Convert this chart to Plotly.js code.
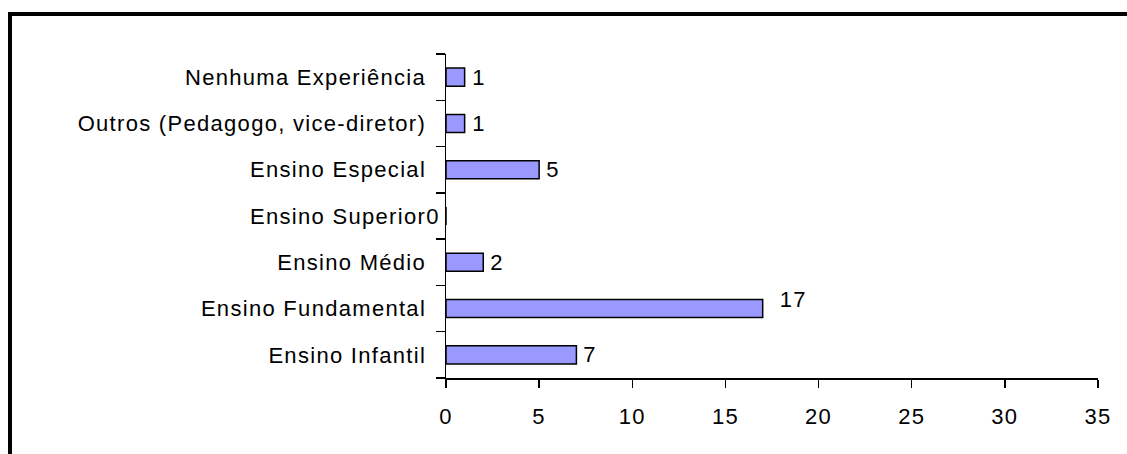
<!DOCTYPE html>
<html>
<head>
<meta charset="utf-8">
<script src="https://cdn.plot.ly/plotly-3.0.1.min.js"></script>
<style>
  html, body { margin: 0; padding: 0; background: #fff; }
  #wrap { position: relative; width: 1127px; height: 454px; overflow: hidden; }
  #chart { position: absolute; left: 0; top: 0; width: 1127px; height: 454px; }
  #frame { position: absolute; left: 8px; top: 12px; right: -10px; bottom: -10px;
           border-top: 4px solid #000; border-left: 4px solid #000; pointer-events: none; }
  #chart text { letter-spacing: 1.3px; }
</style>
</head>
<body>
<div id="wrap">
  <div id="chart"></div>
  <div id="frame"></div>
</div>
<script>
// Data (bottom to top)
const categories = [
  "Ensino Infantil",
  "Ensino Fundamental",
  "Ensino Médio",
  "Ensino Superior",
  "Ensino Especial",
  "Outros (Pedagogo, vice-diretor)",
  "Nenhuma Experiência"
];
const counts = [7, 17, 2, 0, 5, 1, 1];
const xTickValues = [0, 5, 10, 15, 20, 25, 30, 35];

// Styling
const FONT = { family: "Liberation Sans, Arial, Helvetica, sans-serif", size: 22, color: "#000" };
const labelNudge = { "Ensino Fundamental": { dx: 10, dy: -9 } };

const trace = {
  type: "bar",
  orientation: "h",
  x: counts,
  y: categories,
  marker: { color: "#9999FF", line: { color: "#000", width: 1.5 } },
  hoverinfo: "none"
};

const annotations = categories.map((c, i) => {
  const v = counts[i];
  const n = labelNudge[c] || { dx: 0, dy: 0 };
  const zero = v === 0;
  return {
    x: v, y: c, xref: "x", yref: "y",
    text: String(v), showarrow: false,
    xanchor: zero ? "right" : "left",
    yanchor: "middle",
    xshift: (zero ? -5 : 6) + n.dx,
    yshift: -n.dy,
    font: FONT
  };
});

const layout = {
  width: 1127, height: 454,
  margin: { l: 446, r: 29, t: 54, b: 76 },
  paper_bgcolor: "#fff", plot_bgcolor: "#fff",
  showlegend: false,
  bargap: 0.61,
  font: FONT,
  xaxis: {
    range: [0, 35],
    tickvals: xTickValues,
    ticktext: xTickValues.map(String),
    showgrid: false, zeroline: false,
    showline: true, linecolor: "#000", linewidth: 1.5,
    ticks: "outside", ticklen: 8, tickwidth: 1.5, tickcolor: "#000",
    ticklabelstandoff: 10,
    tickfont: FONT,
    fixedrange: true
  },
  yaxis: {
    type: "category",
    categoryorder: "array",
    categoryarray: categories,
    showgrid: false, zeroline: false,
    showline: true, linecolor: "#000", linewidth: 1.5,
    ticks: "outside", tickson: "boundaries", ticklen: 9, tickwidth: 1.5, tickcolor: "#000",
    ticklabelstandoff: 14,
    tickfont: FONT,
    automargin: false,
    fixedrange: true
  },
  annotations: annotations
};

Plotly.newPlot("chart", [trace], layout, { staticPlot: true, displayModeBar: false });
</script>
</body>
</html>
